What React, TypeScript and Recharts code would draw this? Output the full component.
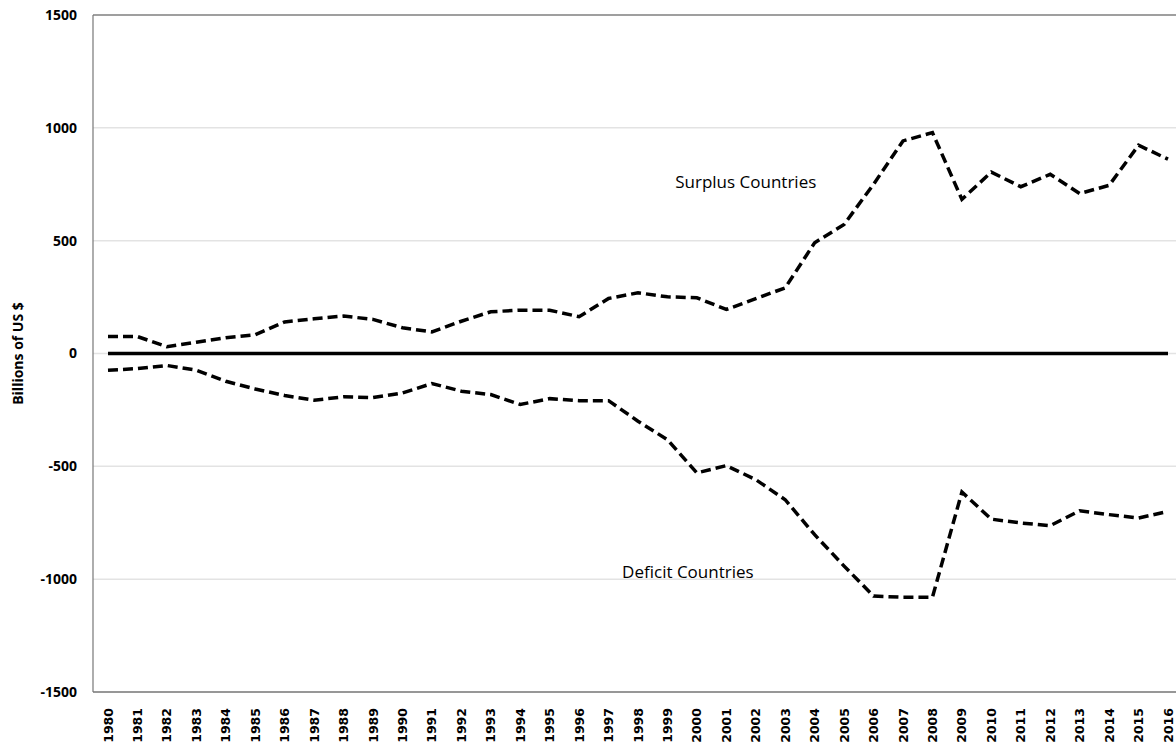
import {
  LineChart,
  Line,
  XAxis,
  YAxis,
  CartesianGrid,
  ReferenceLine,
  ReferenceDot,
} from 'recharts'

const years = [
  '1980', '1981', '1982', '1983', '1984', '1985', '1986', '1987', '1988', '1989',
  '1990', '1991', '1992', '1993', '1994', '1995', '1996', '1997', '1998', '1999',
  '2000', '2001', '2002', '2003', '2004', '2005', '2006', '2007', '2008', '2009',
  '2010', '2011', '2012', '2013', '2014', '2015', '2016',
]

// billions of US $
const surplus = [
  75, 75, 30, 50, 70, 83, 140, 154, 166, 151,
  114, 96, 143, 185, 192, 192, 163, 244, 269, 251,
  247, 195, 243, 291, 491, 572, 750, 942, 979, 683,
  804, 739, 794, 709, 745, 923, 861,
]

const deficit = [
  -74, -67, -53, -74, -123, -157, -186, -207, -192, -195,
  -175, -133, -167, -182, -226, -200, -209, -209, -300, -382,
  -529, -497, -559, -648, -803, -942, -1075, -1080, -1080, -614,
  -734, -751, -763, -697, -714, -729, -700,
]

const yTicks = [-1500, -1000, -500, 0, 500, 1000, 1500]

const chartData = years.map((year, i) => ({
  year,
  surplus: surplus[i],
  deficit: deficit[i],
  zero: 0,
}))

const YearTick = (props: any) => {
  const { x, y, payload } = props
  return (
    <text
      transform={`translate(${x},${y + 8}) rotate(-90)`}
      textAnchor="end"
      dominantBaseline="central"
      fontFamily="DejaVu Sans"
      fontWeight="bold"
      fontSize={12.5}
      fill="#000"
    >
      {payload.value}
    </text>
  )
}

const noteStyle = { fontFamily: 'Open Sans', fontSize: 17, fill: '#000' }

export default function App() {
  return (
    <div style={{ position: 'absolute', left: 0, top: 0, width: 1176, height: 751, background: '#fff' }}>
      <LineChart
        width={1176}
        height={751}
        data={chartData}
        margin={{ top: 15, right: 0, left: 0, bottom: 0 }}
      >
        <CartesianGrid vertical={false} stroke="#e3e3e3" strokeWidth={1.5} />
        <XAxis
          dataKey="year"
          interval={0}
          height={59}
          padding={{ left: 15, right: 8 }}
          tick={<YearTick />}
          tickLine={false}
          axisLine={{ stroke: '#444', strokeWidth: 1.2 }}
        />
        <YAxis
          type="number"
          domain={[-1500, 1500]}
          ticks={yTicks}
          width={93}
          tickLine={false}
          axisLine={{ stroke: '#777', strokeWidth: 1.2 }}
          tick={{ fill: '#000', fontSize: 14, fontWeight: 'bold', fontFamily: 'Open Sans' }}
          tickMargin={10}
          label={{
            value: 'Billions of US $',
            angle: -90,
            position: 'insideLeft',
            offset: 18,
            style: {
              textAnchor: 'middle',
              fontFamily: 'Open Sans',
              fontWeight: 'bold',
              fontSize: 14,
              fill: '#000',
            },
          }}
        />
        <ReferenceLine y={1500} stroke="#555" strokeWidth={1.2} />
        <Line
          dataKey="zero"
          name="Zero"
          stroke="#000"
          strokeWidth={3.5}
          dot={false}
          isAnimationActive={false}
        />
        <Line
          dataKey="surplus"
          name="Surplus Countries"
          stroke="#000"
          strokeWidth={3.5}
          strokeDasharray="10 5"
          dot={false}
          isAnimationActive={false}
        />
        <Line
          dataKey="deficit"
          name="Deficit Countries"
          stroke="#000"
          strokeWidth={3.5}
          strokeDasharray="10 5"
          dot={false}
          isAnimationActive={false}
        />
        <ReferenceDot
          x="2002"
          y={760}
          r={0}
          label={{ value: 'Surplus Countries', position: 'center', dx: -10, style: noteStyle }}
        />
        <ReferenceDot
          x="2000"
          y={-967}
          r={0}
          label={{ value: 'Deficit Countries', position: 'center', dx: -9, style: noteStyle }}
        />
      </LineChart>
    </div>
  )
}
